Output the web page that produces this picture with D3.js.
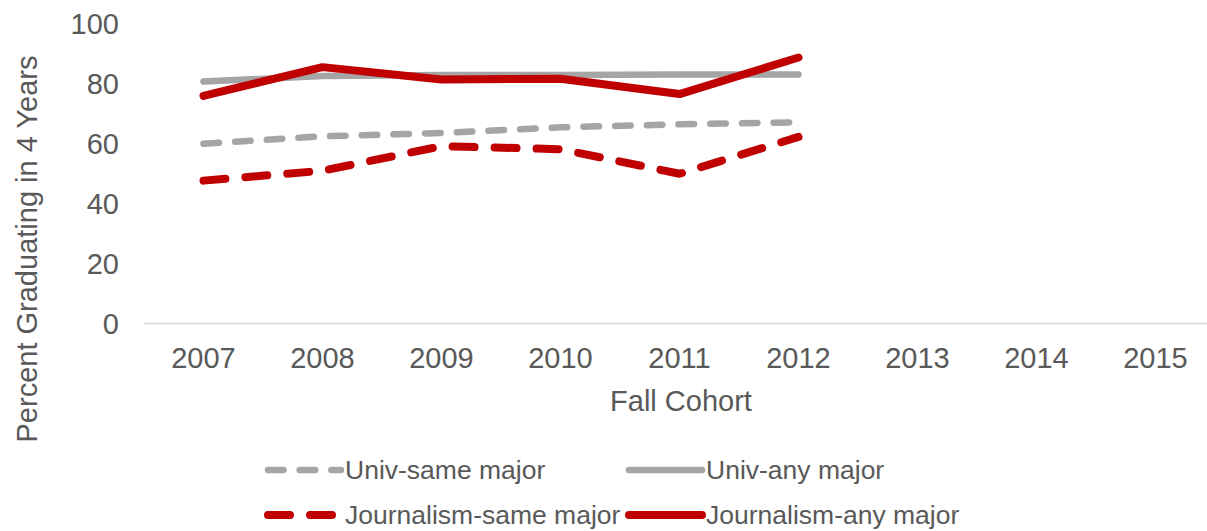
<!DOCTYPE html>
<html>
<head>
    <meta charset="utf-8">
    <title>Percent Graduating in 4 Years</title>
    <script src="https://d3js.org/d3.v7.min.js"></script>
    <style>
        body { margin: 0; background: #fff; }
        svg text { font-family: "Liberation Sans", Arial, sans-serif; fill: #595959; }
        .tick-label { font-size: 29px; }
        .axis-title { font-size: 29px; text-anchor: middle; }
        .legend-label { font-size: 26.5px; }
    </style>
</head>
<body>
<div id="chart"></div>
<script>
    // Data
    const years = ["2007", "2008", "2009", "2010", "2011", "2012", "2013", "2014", "2015"];
    const univSame = [60.0, 62.5, 63.6, 65.5, 66.5, 67.2];
    const univAny = [80.8, 82.6, 83.0, 83.0, 83.1, 83.1];
    const journSame = [47.7, 51.0, 59.2, 58.2, 50.0, 62.3];
    const journAny = [76.0, 85.6, 81.5, 81.7, 76.6, 88.8];
    const yTicks = [0, 20, 40, 60, 80, 100];

    const W = 1207, H = 531;

    // Serienreihenfolge wie in der Legende
    const series = [
        { name: "Univ-same major", values: univSame, color: "#a5a5a5", width: 6.5, dash: "15.5,16.2" },
        { name: "Univ-any major", values: univAny, color: "#a5a5a5", width: 6.5, dash: null },
        { name: "Journalism-same major", values: journSame, color: "#c00000", width: 8, dash: "22,20" },
        { name: "Journalism-any major", values: journAny, color: "#c00000", width: 8, dash: null }
    ];

    const svg = d3.select("#chart").append("svg")
        .attr("width", W)
        .attr("height", H);

    const x = d3.scaleBand()
        .domain(years)
        .range([144, 144 + 9 * 119]);

    const y = d3.scaleLinear()
        .domain([0, 100])
        .range([323.5, 24]);

    // Y-Achse (nur Beschriftung)
    svg.append("g")
        .selectAll("text")
        .data(yTicks)
        .join("text")
        .attr("class", "tick-label")
        .attr("x", 119)
        .attr("y", d => y(d))
        .attr("dy", "0.35em")
        .attr("text-anchor", "end")
        .text(d => d);

    // X-Achse: Grundlinie + Jahre
    svg.append("line")
        .attr("x1", x.range()[0])
        .attr("x2", x.range()[1])
        .attr("y1", y(0))
        .attr("y2", y(0))
        .attr("stroke", "#d9d9d9")
        .attr("stroke-width", 1.5);

    svg.append("g")
        .selectAll("text")
        .data(years)
        .join("text")
        .attr("class", "tick-label")
        .attr("x", d => x(d) + x.bandwidth() / 2)
        .attr("y", 358)
        .attr("dy", "0.35em")
        .attr("text-anchor", "middle")
        .text(d => d);

    // Achsentitel
    svg.append("text")
        .attr("class", "axis-title")
        .attr("x", 681)
        .attr("y", 401)
        .attr("dy", "0.35em")
        .text("Fall Cohort");

    svg.append("text")
        .attr("class", "axis-title")
        .attr("transform", "translate(27,249) rotate(-90)")
        .attr("dy", "0.35em")
        .text("Percent Graduating in 4 Years");

    // Linien
    const line = d3.line()
        .x((d, i) => x(years[i]) + x.bandwidth() / 2)
        .y(d => y(d));

    svg.append("g")
        .selectAll("path")
        .data(series)
        .join("path")
        .attr("d", d => line(d.values))
        .attr("fill", "none")
        .attr("stroke", d => d.color)
        .attr("stroke-width", d => d.width)
        .attr("stroke-dasharray", d => d.dash)
        .attr("stroke-linecap", "round")
        .attr("stroke-linejoin", "round");

    // Legende (2 x 2)
    const legendCols = [265, 626];
    const legendRows = [470, 515];

    const legend = svg.append("g")
        .selectAll("g")
        .data(series)
        .join("g")
        .attr("transform", (d, i) => `translate(${legendCols[i % 2]},${legendRows[Math.floor(i / 2)]})`);

    legend.append("line")
        .attr("x1", 3)
        .attr("x2", 76)
        .attr("stroke", d => d.color)
        .attr("stroke-width", d => d.width)
        .attr("stroke-dasharray", d => d.dash)
        .attr("stroke-linecap", "round");

    legend.append("text")
        .attr("class", "legend-label")
        .attr("x", 80)
        .attr("dy", "0.35em")
        .text(d => d.name);
</script>
</body>
</html>
